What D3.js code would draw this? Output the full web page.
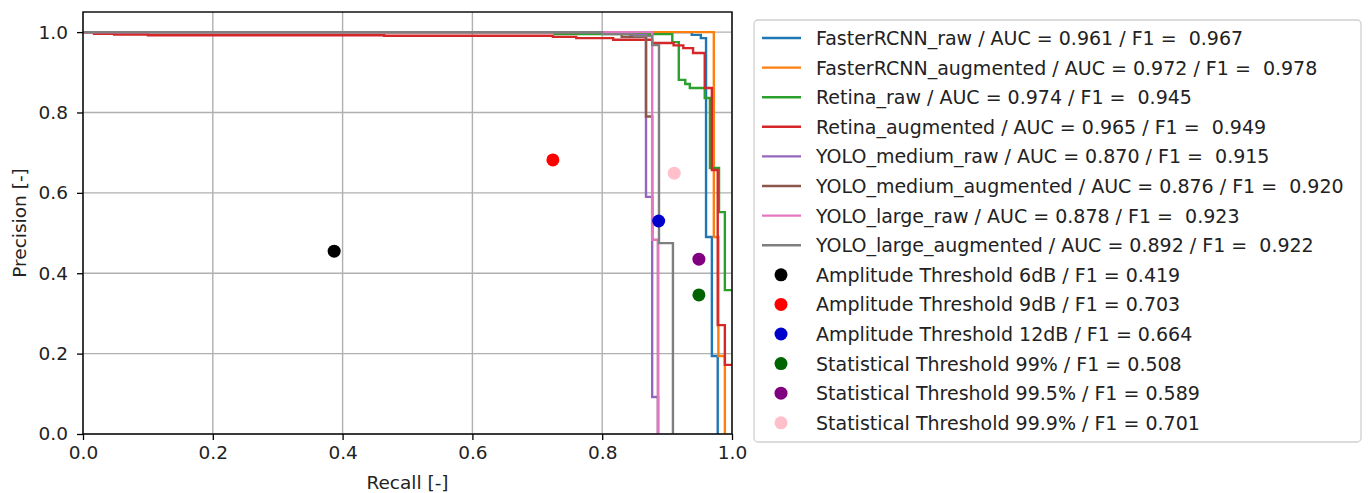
<!DOCTYPE html>
<html>
<head>
<meta charset="utf-8">
<script src="https://cdn.jsdelivr.net/npm/d3@7"></script>
<style>
  body { margin: 0; background: #fff; }
  svg { display: block; }
  text { font-family: "DejaVu Sans", sans-serif; fill: #222; }
</style>
</head>
<body>
<svg id="chart" width="1368" height="493"></svg>
<script>
// ---------- DATA ----------
const xTicks = [0.0, 0.2, 0.4, 0.6, 0.8, 1.0];
const yTicks = [0.0, 0.2, 0.4, 0.6, 0.8, 1.0];

const seriesNames = ["FasterRCNN_raw", "FasterRCNN_augmented", "Retina_raw", "Retina_augmented",
  "YOLO_medium_raw", "YOLO_medium_augmented", "YOLO_large_raw", "YOLO_large_augmented"];
const seriesAUC = ["0.961", "0.972", "0.974", "0.965", "0.870", "0.876", "0.878", "0.892"];
const seriesF1 = ["0.967", "0.978", "0.945", "0.949", "0.915", "0.920", "0.923", "0.922"];

// step curves: [recall, precision] — precision holds from this recall until the next point
const fasterRaw = [[0, 1.0], [0.938, 0.993], [0.952, 0.985], [0.96, 0.49], [0.969, 0.194], [0.978, 0.0]];
const fasterAug = [[0, 1.0], [0.972, 0.49], [0.979, 0.194], [0.989, 0.0]];
const retinaRaw = [[0, 1.0], [0.727, 0.995], [0.908, 0.975], [0.918, 0.881], [0.928, 0.871], [0.935, 0.861],
  [0.958, 0.836], [0.966, 0.662], [0.98, 0.552], [0.989, 0.358], [1.0, 0.358]];
const retinaAug = [[0, 1.0], [0.017, 0.996], [0.048, 0.994], [0.10, 0.992], [0.464, 0.991], [0.724, 0.988],
  [0.76, 0.985], [0.817, 0.981], [0.877, 0.973], [0.91, 0.967], [0.925, 0.96], [0.94, 0.948],
  [0.958, 0.861], [0.969, 0.657], [0.978, 0.271], [0.989, 0.172], [1.0, 0.172]];
const yoloMedRaw = [[0, 1.0], [0.843, 0.992], [0.8675, 0.59], [0.877, 0.092], [0.886, 0.0]];
const yoloMedAug = [[0, 1.0], [0.83, 0.988], [0.8675, 0.79], [0.877, 0.483], [0.886, 0.0]];
const yoloLargeRaw = [[0, 1.0], [0.877, 0.483], [0.886, 0.0]];
const yoloLargeAug = [[0, 1.0], [0.80, 0.995], [0.85, 0.99], [0.877, 0.968], [0.8875, 0.475], [0.909, 0.0]];
const seriesData = [fasterRaw, fasterAug, retinaRaw, retinaAug, yoloMedRaw, yoloMedAug, yoloLargeRaw, yoloLargeAug];

const thresholdNames = ["Amplitude Threshold 6dB", "Amplitude Threshold 9dB", "Amplitude Threshold 12dB",
  "Statistical Threshold 99%", "Statistical Threshold 99.5%", "Statistical Threshold 99.9%"];
const thresholdF1 = ["0.419", "0.703", "0.664", "0.508", "0.589", "0.701"];
const thresholdRecall = [0.387, 0.724, 0.887, 0.949, 0.949, 0.911];
const thresholdPrecision = [0.455, 0.682, 0.530, 0.346, 0.435, 0.649];

// ---------- STYLE ----------
const lineColors = ["#1f77b4", "#ff7f0e", "#2ca02c", "#d62728", "#9467bd", "#8c564b", "#e377c2", "#7f7f7f"];
const dotColors = ["#000000", "#ff0000", "#0000cd", "#006400", "#800080", "#ffc0cb"];

const svg = d3.select("#chart");

const x = d3.scaleLinear().domain([0, 1]).range([83, 732]);
const y = d3.scaleLinear().domain([0, 1.05]).range([434, 12]);

// grid
const grid = svg.append("g");
grid.selectAll("line.gx").data(xTicks).join("line")
  .attr("x1", d => x(d)).attr("x2", d => x(d)).attr("y1", y(0)).attr("y2", y(1.05))
  .attr("stroke", "#b0b0b0").attr("stroke-width", 1.4);
grid.selectAll("line.gy").data(yTicks).join("line")
  .attr("y1", d => y(d)).attr("y2", d => y(d)).attr("x1", x(0)).attr("x2", x(1))
  .attr("stroke", "#b0b0b0").attr("stroke-width", 1.4);

// curves
const line = d3.line().x(d => x(d[0])).y(d => y(d[1])).curve(d3.curveStepAfter);
svg.append("g").selectAll("path").data(seriesData).join("path")
  .attr("d", d => line(d))
  .attr("fill", "none")
  .attr("stroke", (d, i) => lineColors[i])
  .attr("stroke-width", 2.4)
  .attr("stroke-linejoin", "miter");

// scatter
svg.append("g").selectAll("circle").data(thresholdRecall).join("circle")
  .attr("cx", d => x(d))
  .attr("cy", (d, i) => y(thresholdPrecision[i]))
  .attr("r", 6.5)
  .attr("fill", (d, i) => dotColors[i]);

// axes
const fontTick = 18.5;
const xAxis = d3.axisBottom(x).tickValues(xTicks).tickFormat(d3.format(".1f")).tickSize(6).tickPadding(6);
const yAxis = d3.axisLeft(y).tickValues(yTicks).tickFormat(d3.format(".1f")).tickSize(6).tickPadding(9);
const gx = svg.append("g").attr("transform", `translate(0,${y(0)})`).call(xAxis);
const gy = svg.append("g").attr("transform", `translate(${x(0)},0)`).call(yAxis);
[gx, gy].forEach(g => {
  g.select(".domain").remove();
  g.selectAll(".tick line").attr("stroke", "#000").attr("stroke-width", 1.3);
  g.selectAll(".tick text").attr("font-size", fontTick).attr("fill", "#222")
    .style("font-family", "DejaVu Sans");
});

// frame
svg.append("rect").attr("x", x(0)).attr("y", y(1.05)).attr("width", x(1) - x(0)).attr("height", y(0) - y(1.05))
  .attr("fill", "none").attr("stroke", "#000").attr("stroke-width", 1.4);

// axis labels
svg.append("text").attr("x", (x(0) + x(1)) / 2).attr("y", 482).attr("text-anchor", "middle")
  .attr("dominant-baseline", "central").attr("font-size", 18.5).text("Recall [-]");
svg.append("text").attr("transform", `translate(19,${(y(0) + y(1.05)) / 2}) rotate(-90)`)
  .attr("text-anchor", "middle").attr("dominant-baseline", "central").attr("font-size", 18.5).text("Precision [-]");

// legend
const legend = svg.append("g");
legend.append("rect").attr("x", 754).attr("y", 20).attr("width", 607).attr("height", 422)
  .attr("rx", 4).attr("fill", "#fff").attr("stroke", "#d0d0d0").attr("stroke-width", 1.3);
const rowY = i => 38 + i * 29.6;
const legendFont = 19;
seriesNames.forEach((n, i) => {
  legend.append("line").attr("x1", 762).attr("x2", 801).attr("y1", rowY(i)).attr("y2", rowY(i))
    .attr("stroke", lineColors[i]).attr("stroke-width", 2.4);
  legend.append("text").attr("x", 816).attr("y", rowY(i)).attr("dominant-baseline", "central")
    .attr("font-size", legendFont).style("white-space", "pre")
    .text(`${n} / AUC = ${seriesAUC[i]} / F1 =  ${seriesF1[i]}`);
});
thresholdNames.forEach((n, j) => {
  const i = j + seriesNames.length;
  legend.append("circle").attr("cx", 781).attr("cy", rowY(i)).attr("r", 6.5).attr("fill", dotColors[j]);
  legend.append("text").attr("x", 816).attr("y", rowY(i)).attr("dominant-baseline", "central")
    .attr("font-size", legendFont).style("white-space", "pre")
    .text(`${n} / F1 = ${thresholdF1[j]}`);
});
</script>
</body>
</html>
